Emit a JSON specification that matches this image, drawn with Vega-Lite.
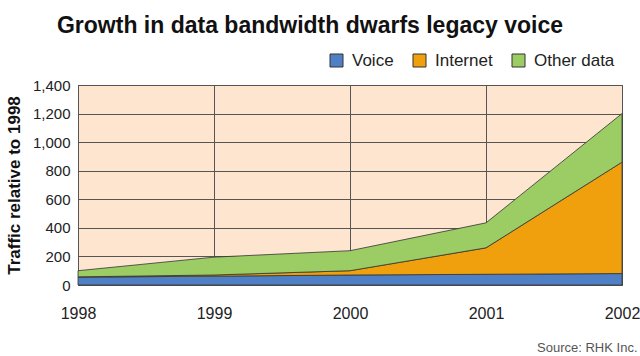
{
  "$schema": "https://vega.github.io/schema/vega-lite/v6.json",
  "width": 544,
  "height": 200,
  "autosize": {"type": "none"},
  "padding": {"left": 78, "top": 85, "right": 18, "bottom": 71},
  "background": "white",
  "title": {
    "text": "Growth in data bandwidth dwarfs legacy voice",
    "font": "Liberation Sans",
    "fontSize": 23,
    "fontWeight": "bold",
    "color": "#111111",
    "anchor": "middle",
    "frame": "group",
    "dx": -40,
    "offset": 14
  },
  "config": {
    "view": {"stroke": "#555555", "strokeWidth": 1, "fill": "#fde5cf"},
    "font": "Liberation Sans"
  },
  "data": {
    "values": [
      {"year": 1998, "type": "Voice", "value": 55, "ord": 1},
      {"year": 1999, "type": "Voice", "value": 62, "ord": 1},
      {"year": 2000, "type": "Voice", "value": 70, "ord": 1},
      {"year": 2001, "type": "Voice", "value": 75, "ord": 1},
      {"year": 2002, "type": "Voice", "value": 80, "ord": 1},
      {"year": 1998, "type": "Internet", "value": 2, "ord": 2},
      {"year": 1999, "type": "Internet", "value": 8, "ord": 2},
      {"year": 2000, "type": "Internet", "value": 30, "ord": 2},
      {"year": 2001, "type": "Internet", "value": 185, "ord": 2},
      {"year": 2002, "type": "Internet", "value": 780, "ord": 2},
      {"year": 1998, "type": "Other data", "value": 43, "ord": 3},
      {"year": 1999, "type": "Other data", "value": 125, "ord": 3},
      {"year": 2000, "type": "Other data", "value": 140, "ord": 3},
      {"year": 2001, "type": "Other data", "value": 175, "ord": 3},
      {"year": 2002, "type": "Other data", "value": 340, "ord": 3}
    ]
  },
  "mark": {"type": "area", "stroke": "#333333", "strokeWidth": 0.8, "opacity": 1},
  "encoding": {
    "x": {
      "field": "year",
      "type": "quantitative",
      "scale": {"domain": [1998, 2002], "nice": false, "zero": false},
      "axis": {
        "values": [1998, 1999, 2000, 2001, 2002],
        "format": "d",
        "labelFontSize": 16,
        "labelColor": "#222222",
        "labelPadding": 20,
        "labelFlush": false,
        "grid": true,
        "gridColor": "#555555",
        "gridWidth": 1,
        "gridOpacity": 1,
        "ticks": false,
        "domain": false,
        "title": "Source: RHK Inc.",
        "titleFontSize": 13,
        "titleFontWeight": "normal",
        "titleColor": "#555555",
        "titleAlign": "right",
        "titleAnchor": "end",
        "titleX": 559,
        "titleY": 66,
        "titleBaseline": "alphabetic"
      }
    },
    "y": {
      "aggregate": "sum",
      "field": "value",
      "type": "quantitative",
      "stack": "zero",
      "scale": {"domain": [0, 1400], "nice": false},
      "axis": {
        "values": [0, 200, 400, 600, 800, 1000, 1200, 1400],
        "format": ",d",
        "labelFontSize": 15,
        "labelColor": "#222222",
        "labelPadding": 8,
        "grid": true,
        "gridColor": "#555555",
        "gridWidth": 1,
        "gridOpacity": 1,
        "ticks": false,
        "domain": false,
        "title": "Traffic relative to 1998",
        "titleFontSize": 17,
        "titleFontWeight": "bold",
        "titleColor": "#111111",
        "titlePadding": 9
      }
    },
    "color": {
      "field": "type",
      "type": "nominal",
      "scale": {
        "domain": ["Voice", "Internet", "Other data"],
        "range": ["#4f80c6", "#f0a00c", "#9ccc64"]
      },
      "legend": {
        "title": null,
        "orient": "none",
        "direction": "horizontal",
        "legendX": 250,
        "legendY": -33,
        "symbolType": "square",
        "symbolSize": 169,
        "symbolStrokeColor": "#333333",
        "symbolStrokeWidth": 1,
        "symbolOpacity": 1,
        "labelFontSize": 17,
        "labelColor": "#222222",
        "labelOffset": 7,
        "columnPadding": 17
      }
    },
    "order": {"field": "ord", "type": "quantitative"}
  }
}
